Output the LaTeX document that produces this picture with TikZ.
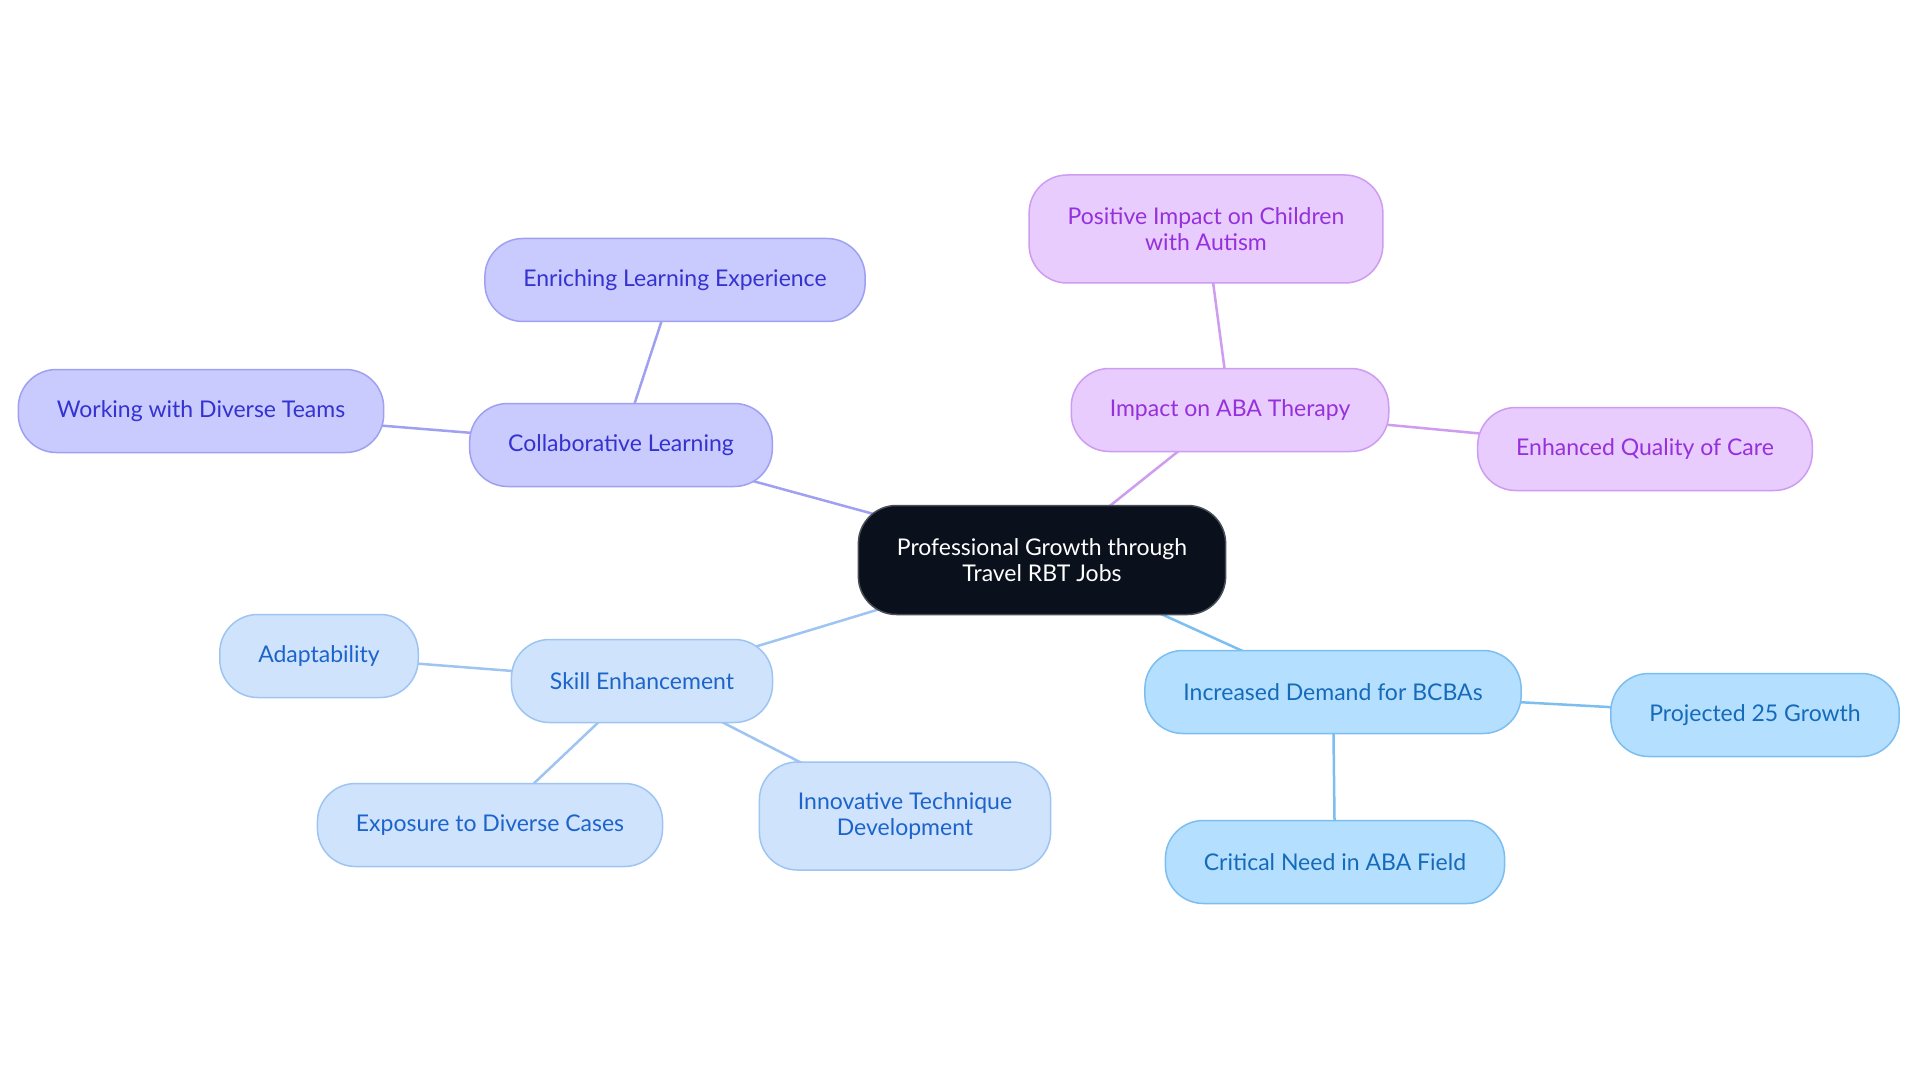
\documentclass[tikz,border=0pt]{standalone}
\usepackage{fontspec}
\setmainfont{Lato}
\usetikzlibrary{calc}
\definecolor{centralColor}{RGB}{11,17,28}
\definecolor{centralBorder}{RGB}{72,77,86}
\definecolor{collabFill}{RGB}{201,202,253}
\definecolor{collabLine}{RGB}{160,160,243}
\definecolor{collabText}{RGB}{52,50,208}
\definecolor{therapyFill}{RGB}{232,204,253}
\definecolor{therapyLine}{RGB}{206,156,240}
\definecolor{therapyText}{RGB}{150,48,220}
\definecolor{skillFill}{RGB}{207,227,252}
\definecolor{skillLine}{RGB}{158,197,242}
\definecolor{skillText}{RGB}{28,100,204}
\definecolor{demandFill}{RGB}{180,223,254}
\definecolor{demandLine}{RGB}{124,190,240}
\definecolor{demandText}{RGB}{22,106,186}
\tikzset{topic/.style={draw, line width=1.5pt, align=center, rounded corners=38pt, minimum height=83pt, inner xsep=38.5pt, inner ysep=26pt, font=\fontsize{23}{26}\selectfont}}
\tikzset{twoline/.style={minimum height=108pt}}
\tikzset{central/.style={topic, twoline, fill=centralColor, draw=centralBorder, text=white, minimum height=109pt}}
\tikzset{collab/.style={topic, fill=collabFill, draw=collabLine, text=collabText}}
\tikzset{therapy/.style={topic, fill=therapyFill, draw=therapyLine, text=therapyText}}
\tikzset{skill/.style={topic, fill=skillFill, draw=skillLine, text=skillText}}
\tikzset{demand/.style={topic, fill=demandFill, draw=demandLine, text=demandText}}
\tikzset{branch/.style={line width=2.5pt}}

\begin{document}
\begin{tikzpicture}[x=1pt, y=-1pt]
\pgfdeclarelayer{background}
\pgfsetlayers{background,main}
\useasboundingbox (0,0) rectangle (1920,1083);
% Nodes
\node (ProfessionalGrowth) [central] at (1042,560) {Professional Growth through\\ Travel RBT Jobs};

\node (CollaborativeLearning) [collab] at (621,445) {Collaborative Learning};
\node (EnrichingExperience) [collab] at (675,280) {Enriching Learning Experience};
\node (DiverseTeams) [collab] at (201,411) {Working with Diverse Teams};

\node (ImpactABA) [therapy] at (1230,410) {Impact on ABA Therapy};
\node (PositiveImpact) [therapy, twoline] at (1206,229) {Positive Impact on Children\\ with Autism};
\node (QualityCare) [therapy] at (1645,449) {Enhanced Quality of Care};

\node (SkillEnhancement) [skill] at (642,681) {Skill Enhancement};
\node (Adaptability) [skill] at (319,656) {Adaptability};
\node (DiverseCases) [skill] at (490,825) {Exposure to Diverse Cases};
\node (InnovativeTechnique) [skill, twoline] at (905,816) {Innovative Technique\\ Development};

\node (DemandBCBA) [demand] at (1333,692) {Increased Demand for BCBAs};
\node (ProjectedGrowth) [demand] at (1755,715) {Projected 25 Growth};
\node (CriticalNeed) [demand] at (1335,862) {Critical Need in ABA Field};

% Connectors
\begin{pgfonlayer}{background}
\fill[white] (0,0) rectangle (1920,1083);

\draw [branch, collabLine] (ProfessionalGrowth.center) -- (CollaborativeLearning.center);
\draw [branch, collabLine] (CollaborativeLearning.center) -- (EnrichingExperience.center);
\draw [branch, collabLine] (CollaborativeLearning.center) -- (DiverseTeams.center);

\draw [branch, therapyLine] (ProfessionalGrowth.center) -- (ImpactABA.center);
\draw [branch, therapyLine] (ImpactABA.center) -- (PositiveImpact.center);
\draw [branch, therapyLine] (ImpactABA.center) -- (QualityCare.center);

\draw [branch, skillLine] (ProfessionalGrowth.center) -- (SkillEnhancement.center);
\draw [branch, skillLine] (SkillEnhancement.center) -- (Adaptability.center);
\draw [branch, skillLine] (SkillEnhancement.center) -- (DiverseCases.center);
\draw [branch, skillLine] (SkillEnhancement.center) -- (InnovativeTechnique.center);

\draw [branch, demandLine] (ProfessionalGrowth.center) -- (DemandBCBA.center);
\draw [branch, demandLine] (DemandBCBA.center) -- (ProjectedGrowth.center);
\draw [branch, demandLine] (DemandBCBA.center) -- (CriticalNeed.center);
\end{pgfonlayer}

\end{tikzpicture}
\end{document}
